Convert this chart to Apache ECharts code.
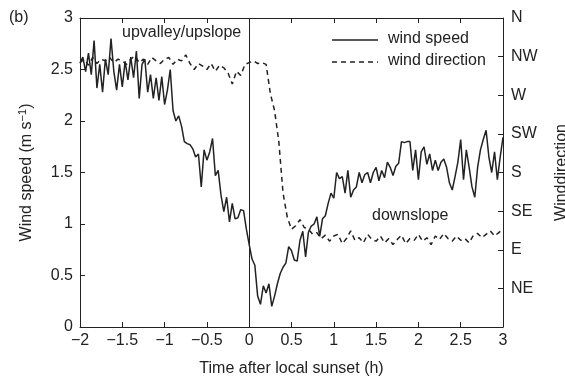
<!DOCTYPE html>
<html>
<head>
<meta charset="UTF-8">
<script src="https://cdn.jsdelivr.net/npm/echarts@6.0.0/dist/echarts.min.js"></script>
<style>
  body { margin: 0; padding: 0; background: #ffffff; }
  #chart { width: 565px; height: 380px; }
</style>
</head>
<body>
<div id="chart"></div>
<script>
// wind speed (m/s), sampled every 2 minutes from -2 h to +3 h
const speedStart = -2;
const speedStep = 1 / 30;
const windSpeed = [
  2.56, 2.62, 2.48, 2.66, 2.45, 2.78, 2.32, 2.55, 2.28, 2.60,
  2.45, 2.80, 2.48, 2.30, 2.55, 2.33, 2.58, 2.40, 2.62, 2.42,
  2.68, 2.22, 2.55, 2.60, 2.28, 2.45, 2.22, 2.42, 2.20, 2.43,
  2.16, 2.30, 2.50, 2.10, 2.00, 2.05, 1.95, 1.80, 1.78, 1.77,
  1.73, 1.65, 1.68, 1.36, 1.72, 1.62, 1.70, 1.83, 1.47, 1.52,
  1.28, 1.12, 1.26, 1.02, 1.20, 1.05, 1.06, 1.14, 1.13, 0.95,
  0.80, 0.66, 0.60, 0.30, 0.22, 0.40, 0.33, 0.42, 0.20, 0.30,
  0.42, 0.52, 0.58, 0.62, 0.78, 0.74, 0.65, 0.64, 0.84, 0.93,
  0.68, 0.92, 0.98, 1.00, 1.07, 0.88, 1.05, 1.08, 1.20, 1.30,
  1.25, 1.50, 1.44, 1.46, 1.30, 1.52, 1.26, 1.33, 1.36, 1.50,
  1.40, 1.48, 1.50, 1.40, 1.50, 1.55, 1.42, 1.52, 1.45, 1.60,
  1.55, 1.47, 1.56, 1.59, 1.80, 1.79, 1.80, 1.80, 1.52, 1.72,
  1.43, 1.70, 1.75, 1.58, 1.68, 1.52, 1.62, 1.52, 1.60, 1.63,
  1.55, 1.40, 1.33, 1.46, 1.60, 1.82, 1.43, 1.72, 1.55, 1.36,
  1.26, 1.55, 1.72, 1.82, 1.91, 1.65, 1.50, 1.70, 1.43, 1.65,
  1.84
];

// wind direction (degrees), sampled every 3 minutes
const dirStart = -2;
const dirStep = 0.05;
const windDir = [
  308, 312, 305, 314, 307, 312, 310, 314, 308, 312,
  310, 306, 312, 316, 308, 312, 306, 314, 310, 307,
  312, 314, 306, 312, 310, 317, 307, 300, 307, 304,
  300, 307, 298, 305, 302, 296, 283, 298, 293, 306,
  308, 310, 307, 308, 306, 272, 252, 216, 156, 128,
  114, 118, 125, 116, 114, 108, 110, 103, 107, 100,
  106, 108, 97, 103, 112, 101, 104, 98, 108, 102,
  100, 106, 98, 103, 96, 102, 107, 97, 103, 101,
  108, 100, 104, 96, 106, 102, 109, 103, 100, 106,
  101, 103, 98, 107, 109, 104, 108, 112, 106, 110,
  114
];

const dirNames = { 45: 'NE', 90: 'E', 135: 'SE', 180: 'S', 225: 'SW', 270: 'W', 315: 'NW', 360: 'N' };

const speedData = windSpeed.map((v, i) => [speedStart + i * speedStep, v]);
const dirData = windDir.map((v, i) => [dirStart + i * dirStep, v]);

const font = '"Liberation Sans", Arial, sans-serif';
const ink = '#222';

const chart = echarts.init(document.getElementById('chart'));

// legend drawn by hand so the dashed key looks like the original
const legendItems = [
  { label: 'wind speed', y: 40, dash: null },
  { label: 'wind direction', y: 62, dash: [5, 4] }
];
const legendGraphics = [];
legendItems.forEach(item => {
  legendGraphics.push({
    type: 'line',
    shape: { x1: 332, y1: item.y, x2: 378, y2: item.y },
    style: { stroke: ink, lineWidth: 1.5, lineDash: item.dash }
  });
  legendGraphics.push({
    type: 'text', left: 388, top: item.y - 9,
    style: { text: item.label, fontSize: 16, fill: ink, fontFamily: font }
  });
});

const axisLine = { show: true, onZero: false, lineStyle: { color: ink, width: 1 } };
const axisTick = { show: true, inside: true, length: 5, lineStyle: { color: ink } };

const option = {
  animation: false,
  textStyle: { fontFamily: font, color: ink },
  grid: { left: 80, right: 62, top: 18, bottom: 53, outerBoundsMode: 'none', containLabel: false },
  xAxis: [{
    type: 'value',
    min: -2,
    max: 3,
    interval: 0.5,
    name: 'Time after local sunset (h)',
    nameLocation: 'middle',
    nameGap: 34,
    nameTextStyle: { fontSize: 16, color: ink, fontFamily: font },
    axisLine: axisLine,
    axisTick: axisTick,
    axisLabel: {
      fontSize: 16, color: ink, margin: 6,
      formatter: v => v < 0 ? '\u2212' + Math.abs(v) : String(v)
    },
    splitLine: { show: false }
  }, {
    type: 'value',
    position: 'top',
    min: -2,
    max: 3,
    interval: 0.5,
    axisLine: axisLine,
    axisTick: axisTick,
    axisLabel: { show: false },
    splitLine: { show: false }
  }],
  yAxis: [{
    type: 'value',
    min: 0,
    max: 3,
    interval: 0.5,
    name: '{a|Wind speed (m s}{s|\u22121}{a|)}',
    nameLocation: 'middle',
    nameGap: 44,
    nameTextStyle: {
      rich: {
        a: { fontSize: 16, color: ink, fontFamily: font },
        s: { fontSize: 11, color: ink, fontFamily: font, verticalAlign: 'bottom', padding: [0, 0, 8, 0] }
      }
    },
    axisLine: axisLine,
    axisTick: axisTick,
    axisLabel: { fontSize: 16, color: ink, margin: 7 },
    splitLine: { show: false }
  }, {
    type: 'value',
    position: 'right',
    min: 0,
    max: 360,
    interval: 45,
    name: 'Winddirection',
    nameLocation: 'middle',
    nameGap: 51,
    nameTextStyle: { fontSize: 16, color: ink, fontFamily: font },
    axisLine: axisLine,
    axisTick: axisTick,
    axisLabel: { fontSize: 16, color: ink, margin: 8, formatter: v => dirNames[v] || '' },
    splitLine: { show: false }
  }],
  graphic: [
    { type: 'text', left: 9, top: 10, style: { text: '(b)', fontSize: 16, fill: ink, fontFamily: font } },
    { type: 'text', left: 122, top: 25, style: { text: 'upvalley/upslope', fontSize: 16, fill: ink, fontFamily: font } },
    { type: 'text', left: 372, top: 208, style: { text: 'downslope', fontSize: 16, fill: ink, fontFamily: font } }
  ].concat(legendGraphics),
  series: [{
    name: 'wind speed',
    type: 'line',
    yAxisIndex: 0,
    data: speedData,
    symbol: 'none',
    lineStyle: { color: ink, width: 1.5 },
    itemStyle: { color: ink },
    markLine: {
      silent: true,
      symbol: 'none',
      label: { show: false },
      lineStyle: { color: ink, width: 1, type: 'solid' },
      data: [{ xAxis: 0 }]
    }
  }, {
    name: 'wind direction',
    type: 'line',
    yAxisIndex: 1,
    data: dirData,
    symbol: 'none',
    lineStyle: { color: ink, width: 1.5, type: [5, 4] },
    itemStyle: { color: ink }
  }]
};

chart.setOption(option);
</script>
</body>
</html>
